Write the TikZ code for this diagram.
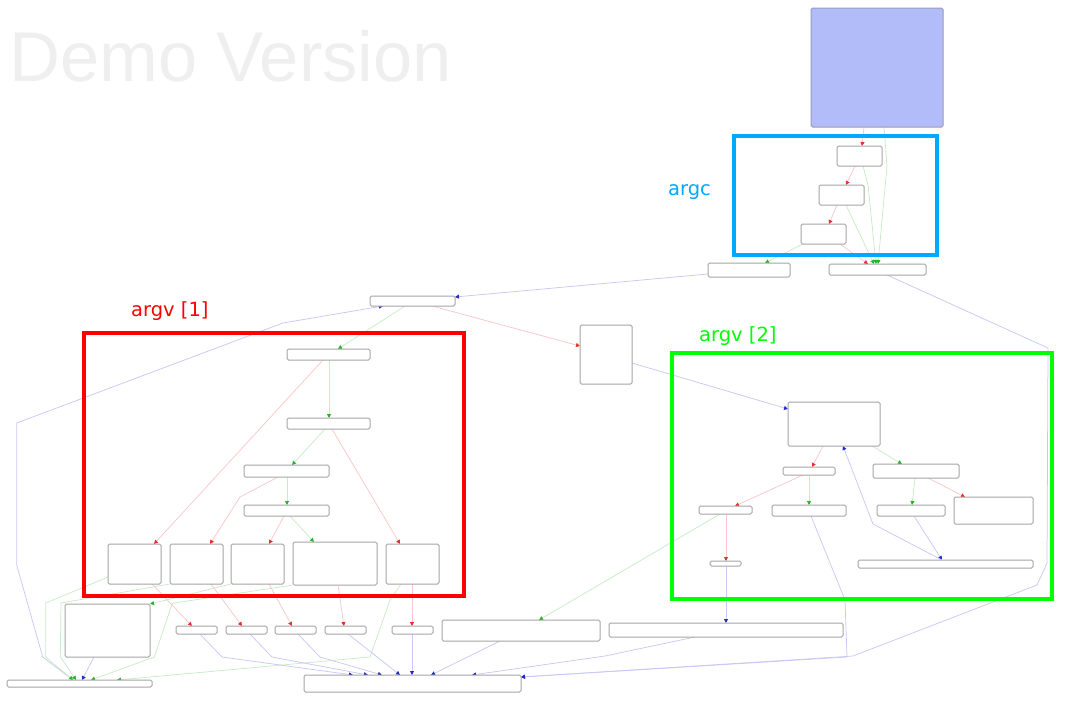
\documentclass[tikz,border=0pt]{standalone}
\usepackage{fontspec}
\setmainfont{DejaVu Sans}
\newfontfamily\demofont{Liberation Sans}
\usetikzlibrary{arrows.meta,backgrounds}
\definecolor{lR}{RGB}{250,200,200}
\definecolor{lG}{RGB}{200,236,200}
\definecolor{lB}{RGB}{200,200,244}
\definecolor{aR}{RGB}{226,48,48}
\definecolor{aG}{RGB}{40,180,40}
\definecolor{aB}{RGB}{40,40,200}
\definecolor{nodeline}{RGB}{165,165,165}
\definecolor{topfill}{RGB}{178,188,248}
\definecolor{topline}{RGB}{150,155,190}
\definecolor{argccol}{RGB}{0,168,255}
\definecolor{demogray}{RGB}{239,239,239}
\tikzset{
  blk/.style={draw=nodeline,fill=white,rounded corners=1.5pt,line width=1pt,inner sep=0pt,outer sep=0pt},
  eR/.style={draw=lR,line width=0.75pt,-{Triangle[length=4pt,width=4pt,color=aR]}},
  eG/.style={draw=lG,line width=0.75pt,-{Triangle[length=4pt,width=4pt,color=aG]}},
  eB/.style={draw=lB,line width=0.75pt,-{Triangle[length=4pt,width=4pt,color=aB]}},
  frame/.style={line width=4pt},
  lbl/.style={inner sep=0pt,anchor=base west,font=\fontsize{19.5}{22}\selectfont}
}
\newcommand\mkbox[6][]{\node[blk,#1,minimum width={(#5-#3)*1pt},minimum height={(#6-#4)*1pt}] (#2) at ({(#3+#5)/2},{(#4+#6)/2}) {};}
\begin{document}
\begin{tikzpicture}[x=1pt,y=-1pt]
\useasboundingbox (0,0) rectangle (1079,724);
\node[inner sep=0pt,anchor=base west,text=demogray,font=\demofont\fontsize{70.5}{72}\selectfont] (demo) at (9,81) {Demo Version};
% nodes
\mkbox[fill=topfill,draw=topline]{top}{811}{8}{943}{127}
\mkbox{n1}{837}{146}{882}{166}
\mkbox{n2}{819}{185}{864}{205}
\mkbox{n3}{801}{224}{846}{244}
\mkbox{n4}{708}{263}{790}{277}
\mkbox{n5}{829}{264}{926}{275}
\mkbox{n6}{370}{296}{455}{306}
\mkbox{n7}{580}{325}{632}{384}
\mkbox{n8}{287}{349}{370}{360}
\mkbox{n9}{287}{418}{370}{429}
\mkbox{n10}{244}{465}{329}{477}
\mkbox{n11}{244}{505}{329}{516}
\mkbox{b1}{108}{544}{161}{584}
\mkbox{b2}{170}{544}{223}{584}
\mkbox{b3}{231}{544}{284}{584}
\mkbox{b4}{293}{542}{377}{585}
\mkbox{b5}{386}{544}{439}{584}
\mkbox{c0}{65}{604}{150}{657}
\mkbox{BL}{7}{680}{152}{687}
\mkbox{s1}{176}{626}{217}{634}
\mkbox{s2}{226}{626}{267}{634}
\mkbox{s3}{275}{626}{316}{634}
\mkbox{s4}{325}{626}{366}{634}
\mkbox{s5}{392}{626}{433}{634}
\mkbox{big6}{442}{620}{600}{641}
\mkbox{wide}{609}{623}{843}{637}
\mkbox{main}{304}{675}{521}{692}
\mkbox{m1}{788}{402}{880}{446}
\mkbox{m2}{783}{467}{835}{475}
\mkbox{m3}{873}{464}{959}{478}
\mkbox{m4}{699}{506}{752}{514}
\mkbox{m5}{772}{505}{846}{516}
\mkbox{m6}{877}{505}{945}{516}
\mkbox{m7}{954}{497}{1033}{524}
\mkbox{m8}{710}{561}{741}{566}
\mkbox{m9}{858}{560}{1033}{568}
% edges
\begin{pgfonlayer}{background}
\draw[eR] (top.south -| 864,0) -- (n1.north -| 862,0);
\draw[eG] (top.south -| 884,0) -- (887,166) -- (n5.north -| 878,0);
\draw[eR] (n1.south -| 855,0) -- (n2.north -| 846,0);
\draw[eG] (n1.south -| 863,0) -- (868,185) -- (n5.north -| 876,0);
\draw[eR] (n2.south -| 837,0) -- (n3.north -| 829,0);
\draw[eG] (n2.south -| 846,0) -- (n5.north -| 874,0);
\draw[eG] (n3.south -| 803,0) -- (n4.north -| 765,0);
\draw[eR] (n3.south -| 840,0) -- (n5.north -| 868,0);
\draw[eB] (n5.south -| 887,0) -- (1048,348) -- (1047,563) -- (1037,585) -- (853,656) -- (main.east |- 0,677);
\draw[eB] (n4.west |- 0,274) -- (n6.east |- 0,297);
\draw[eB] (BL.north -| 73,0) -- (42.7,657) -- (16.7,565) -- (16.7,423) -- (283,323) -- (n6.south -| 383,0);
\draw[eG] (n6.south -| 405,0) -- (n8.north -| 338,0);
\draw[eR] (n6.south -| 432,0) -- (n7.west |- 0,346);
\draw[eB] (n7.east |- 0,363) -- (m1.west |- 0,409);
\draw[eG] (n8.south -| 329,0) -- (n9.north -| 329,0);
\draw[eR] (n8.south -| 323,0) -- (b1.north -| 154,0);
\draw[eG] (n9.south -| 325,0) -- (n10.north -| 292,0);
\draw[eR] (n9.south -| 332,0) -- (b5.north -| 400,0);
\draw[eG] (n10.south -| 287,0) -- (n11.north -| 287,0);
\draw[eR] (n10.south -| 278,0) -- (240,497) -- (b2.north -| 210,0);
\draw[eR] (n11.south -| 284,0) -- (b3.north -| 269,0);
\draw[eG] (n11.south -| 290,0) -- (b4.north -| 314,0);
\draw[eG] (b1.west |- 0,577) -- (45.7,603) -- (45.7,657) -- (BL.north -| 73,0);
\draw[eG] (b2.south west) -- (61,603) -- (60.3,657) -- (BL.north -| 76,0);
\draw[eG] (b3.south west) -- (c0.north east);
\draw[eG] (b4.south west) -- (172.3,603.3) -- (154.3,657) -- (BL.north -| 91,0);
\draw[eG] (b5.south -| 401,0) -- (390,600) -- (370,657) -- (BL.north -| 117,0);
\draw[eB] (c0.south -| 94,0) -- (BL.north -| 82,0);
\draw[eR] (b1.south -| 152,0) -- (s1.north -| 192,0);
\draw[eR] (b2.south -| 211,0) -- (s2.north -| 242,0);
\draw[eR] (b3.south -| 269,0) -- (s3.north -| 292,0);
\draw[eR] (b4.south -| 338,0) -- (s4.north -| 344,0);
\draw[eR] (b5.south -| 412,0) -- (s5.north -| 412,0);
\draw[eB] (s1.south -| 200,0) -- (222,657) -- (main.north -| 353,0);
\draw[eB] (s2.south -| 250,0) -- (272,657) -- (main.north -| 368,0);
\draw[eB] (s3.south -| 298,0) -- (320,657) -- (main.north -| 382,0);
\draw[eB] (s4.south -| 348,0) -- (main.north -| 400,0);
\draw[eB] (s5.south -| 412,0) -- (main.north -| 412,0);
\draw[eB] (big6.south -| 500,0) -- (main.north -| 431,0);
\draw[eB] (wide.south -| 695,0) -- (605,656) -- (main.north -| 472,0);
\draw[eB] (m5.south -| 811,0) -- (845,600) -- (847,657) -- (main.east |- 0,677);
\draw[eG] (m4.south -| 720,0) -- (big6.north -| 539,0);
\draw[eR] (m4.south -| 726,0) -- (m8.north -| 726,0);
\draw[eB] (m8.south -| 726,0) -- (wide.north -| 726,0);
\draw[eR] (m1.south -| 823,0) -- (m2.north -| 812,0);
\draw[eG] (m1.south -| 872,0) -- (m3.north -| 902,0);
\draw[eR] (m2.south -| 803,0) -- (m4.north -| 735,0);
\draw[eG] (m2.south -| 809,0) -- (m5.north -| 809,0);
\draw[eG] (m3.south -| 915,0) -- (m6.north -| 912,0);
\draw[eR] (m3.south -| 928,0) -- (m7.north -| 965,0);
\draw[eB] (m6.south -| 914,0) -- (m9.north -| 942,0);
\draw[eB] (m9.north -| 942,0) -- (873,524) -- (m1.south -| 843,0);
\end{pgfonlayer}
% frames
\draw[frame,draw=argccol] (734,136) rectangle (937,255);
\draw[frame,draw=red] (83.5,333) rectangle (464,596);
\draw[frame,draw={rgb,255:red,0;green,255;blue,0}] (672,353) rectangle (1052,598.5);
% labels
\node[lbl,text=argccol] (largc) at (668,195) {argc};
\node[lbl,text=red] (largv1) at (131,316) {argv [1]};
\node[lbl,text={rgb,255:red,0;green,255;blue,0}] (largv2) at (699,341) {argv [2]};
\end{tikzpicture}
\end{document}
